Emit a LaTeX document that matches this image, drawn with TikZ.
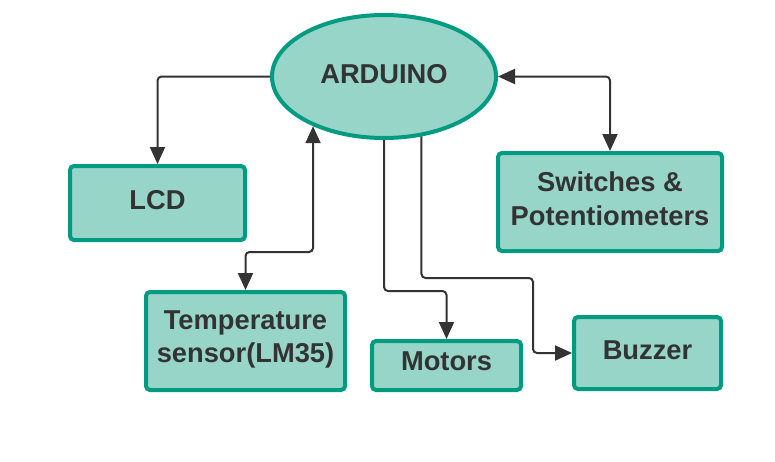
\documentclass[tikz,border=0pt]{standalone}
\usepackage{fontspec}
\setmainfont{Liberation Sans}
\usetikzlibrary{arrows.meta,shapes.geometric,calc}
\definecolor{tealline}{HTML}{009B80}
\definecolor{tealfill}{HTML}{97D5C9}
\definecolor{txt}{HTML}{333333}
\begin{document}
\begin{tikzpicture}[x=1pt,y=-1pt,
  blk/.style={draw=tealline,fill=tealfill,line width=4pt,rounded corners=4pt,
    inner sep=0pt,align=center,text=txt,font=\fontsize{27.3}{33.5}\selectfont\bfseries},
  conn/.style={draw=txt,line width=2pt,rounded corners=4pt,-{Triangle[length=17pt,width=15pt]}},
  conn2/.style={draw=txt,line width=2pt,rounded corners=4pt,
    {Triangle[length=17pt,width=15pt]}-{Triangle[length=17pt,width=15pt]}}]
\useasboundingbox (0,0) rectangle (775,461);
\node[ellipse,draw=tealline,fill=tealfill,line width=4pt,inner sep=0pt,
  minimum width=224pt,minimum height=123pt,text=txt,text depth=5pt,
  font=\fontsize{27.3}{33.5}\selectfont\bfseries] (ard) at (384,76.5) {ARDUINO};
\node[blk,minimum width=175pt,minimum height=74pt,text depth=6pt] (lcd) at (157.5,203) {LCD};
\node[blk,minimum width=224pt,minimum height=98pt,text depth=7pt] (sw) at (610,202) {Switches \&\\Potentiometers};
\node[blk,minimum width=199pt,minimum height=98pt,text depth=8.5pt] (temp) at (245.5,341) {Temperature\\sensor(LM35)};
\node[blk,minimum width=149pt,minimum height=49pt,text depth=8pt] (mot) at (446.5,365.5) {Motors};
\node[blk,minimum width=147pt,minimum height=72pt,text depth=6pt] (buz) at (647.5,353) {Buzzer};
\coordinate (bz1) at (533,278);
\draw[conn] (ard.west) -| (lcd.north);
\draw[conn2] (ard.east) -| (sw.north);
\draw[conn2] (ard.215.5) |- ([yshift=38pt]temp.north) -- (temp.north);
\draw[conn] (ard.south) |- ([yshift=48pt]mot.north) -- (mot.north);
\draw[conn] (ard.302.4) |- (bz1) |- (buz.west);
\end{tikzpicture}
\end{document}
